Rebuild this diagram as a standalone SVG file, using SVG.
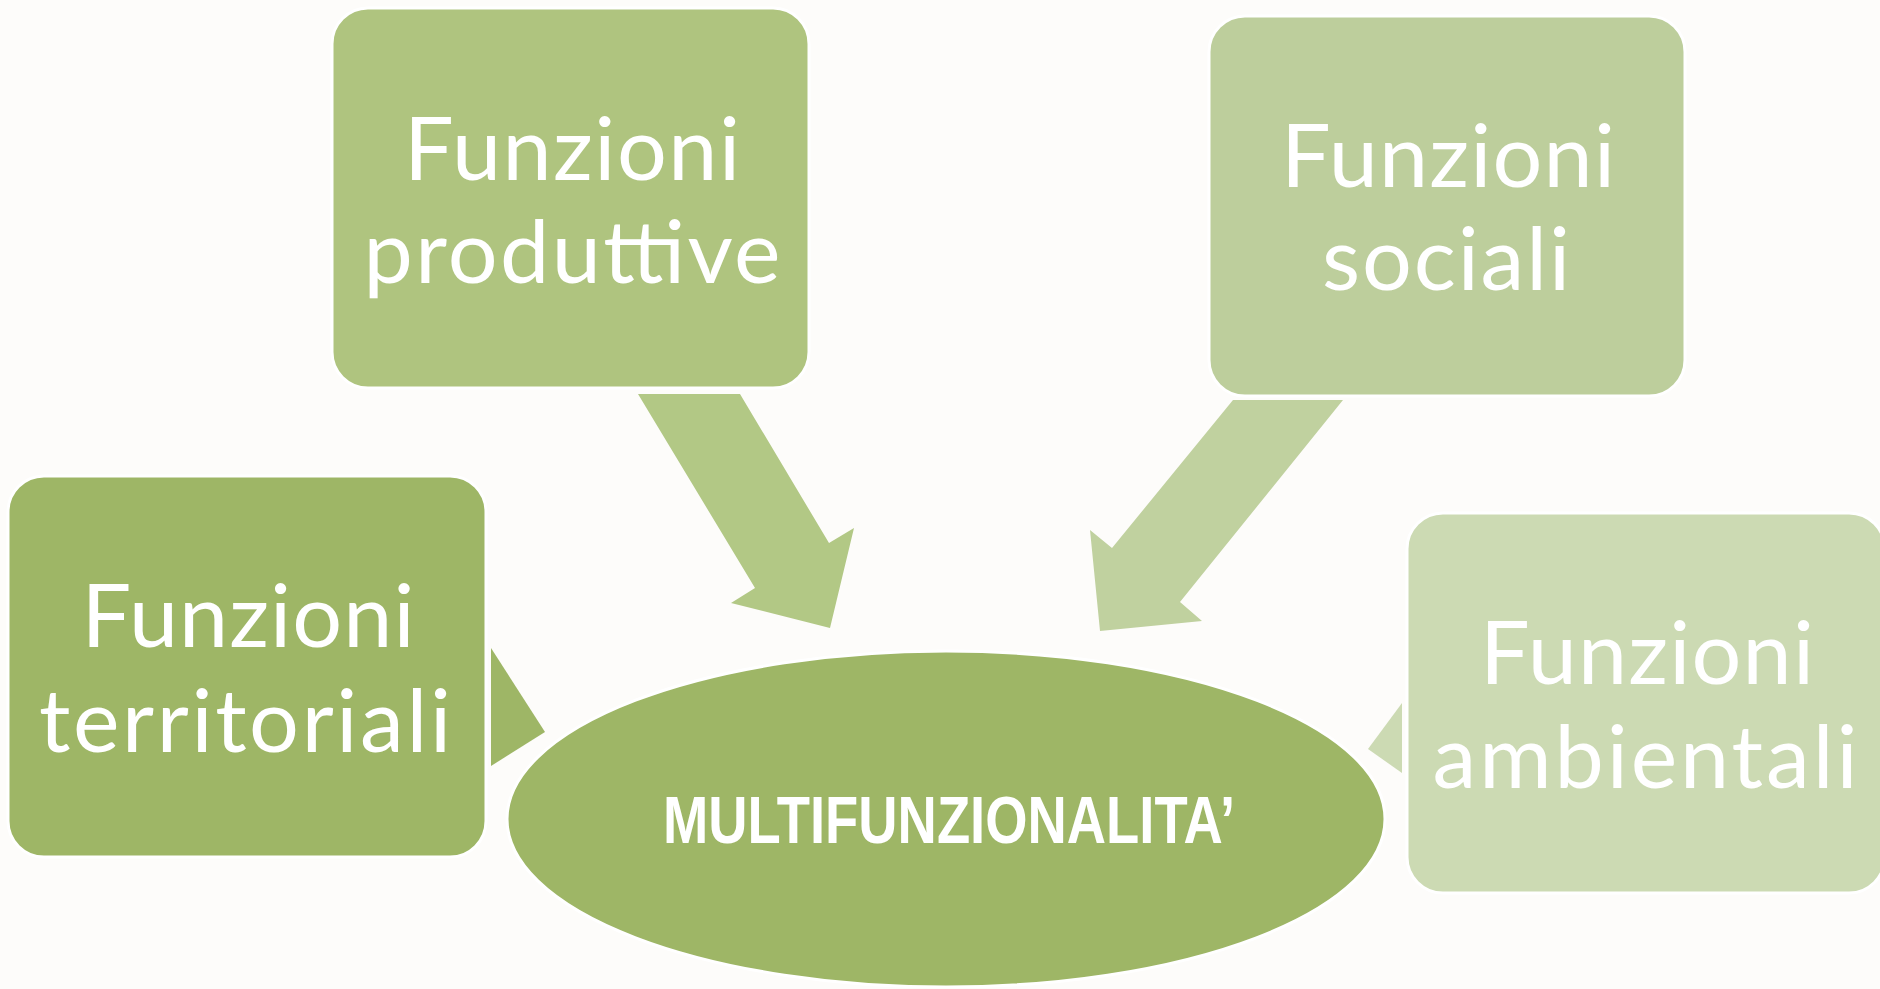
<svg xmlns="http://www.w3.org/2000/svg" width="1880" height="989" viewBox="0 0 1880 989">
<style>
.box{stroke:#ffffff;stroke-width:3}
.lbl{font-family:Lato,"Noto Sans","Liberation Sans",sans-serif;font-size:88px;fill:#ffffff;text-anchor:middle}
.main{font-family:"Liberation Sans Narrow","Liberation Sans",sans-serif;font-weight:bold;font-size:67px;fill:#ffffff;text-anchor:middle}
</style>
<rect width="1880" height="989" fill="#fdfcfa"/>
<g id="connectors">
<polygon points="638,394 740,394 829,543 854,528 830,628 731,603 755,588" fill="#b2c885"/>
<polygon points="1233,400 1343,400 1180,602 1202,621 1100,631 1090,530 1112,548" fill="#c0d19f"/>
<polygon points="491,648 545,732 491,766" fill="#9eb666"/>
<polygon points="1402,703 1368,749 1402,773" fill="#ccdab3"/>
</g>
<g id="produttive">
<rect class="box" x="332" y="8" width="477" height="380" rx="36" fill="#afc47f"/>
<text class="lbl" x="572" y="180" textLength="336">Funzioni</text>
<text class="lbl" x="572" y="283" textLength="417">produttive</text>
</g>
<g id="sociali">
<rect class="box" x="1209" y="16" width="476" height="380" rx="36" fill="#bdce9c"/>
<text class="lbl" x="1448" y="187" textLength="334">Funzioni</text>
<text class="lbl" x="1446" y="290" textLength="248">sociali</text>
</g>
<g id="territoriali">
<rect class="box" x="8" y="476" width="478" height="381" rx="36" fill="#9eb666"/>
<text class="lbl" x="248" y="647" textLength="333">Funzioni</text>
<text class="lbl" x="245" y="752" textLength="412">territoriali</text>
</g>
<g id="ambientali">
<rect class="box" x="1407" y="513" width="478" height="380" rx="36" fill="#ccdab3"/>
<text class="lbl" x="1647" y="684" textLength="334">Funzioni</text>
<text class="lbl" x="1645" y="788" textLength="425">ambientali</text>
</g>
<g id="multifunzionalita">
<ellipse cx="946" cy="819" rx="439" ry="168" fill="#9eb666" stroke="#ffffff" stroke-width="3"/>
<text class="main" x="949" y="843" textLength="572" lengthAdjust="spacingAndGlyphs">MULTIFUNZIONALITA’</text>
</g>
</svg>
